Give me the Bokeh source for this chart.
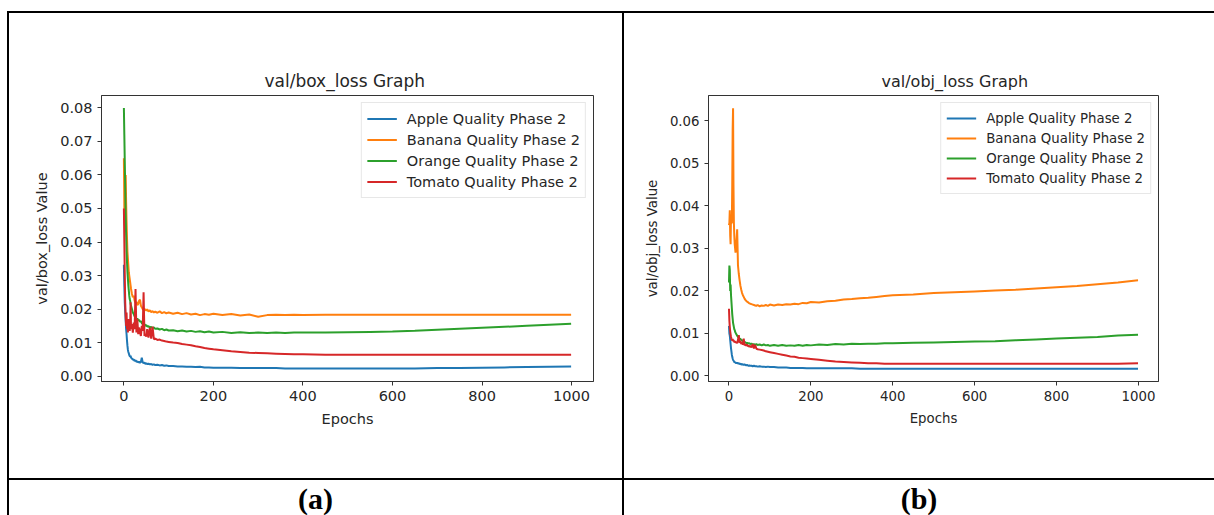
from bokeh.plotting import figure
from bokeh.models import Range1d, FixedTicker, PrintfTickFormatter, Div, Spacer
from bokeh.layouts import row, column
from bokeh.embed import file_html
from bokeh.resources import INLINE

# ---------------- data ----------------
epochs = [0, 1, 2, 3, 4, 5, 6, 7, 8, 9, 10, 11, 12, 13, 14, 15, 16,
          18, 20, 22, 24, 26, 28, 30, 32, 34, 36, 38, 40, 42, 44, 46, 48, 50, 52,
          55, 58, 61, 64, 67, 70, 75, 80, 85, 90, 95, 100,
          110, 120, 130, 140, 150, 160, 170, 180, 190, 200,
          220, 240, 260, 280, 300, 320, 340, 360, 380, 400,
          450, 500, 550, 600, 650, 700, 750, 800, 850, 900, 950, 999]

series_names = ["Apple Quality Phase 2", "Banana Quality Phase 2",
                "Orange Quality Phase 2", "Tomato Quality Phase 2"]
series_colors = ["#1f77b4", "#ff7f0e", "#2ca02c", "#d62728"]

# (a) val/box_loss
box_apple = [0.0332, 0.027, 0.022, 0.019, 0.0165, 0.014, 0.0125, 0.0105, 0.009, 0.0078, 0.0072, 0.0068, 0.0063, 0.0060, 0.0058, 0.0061, 0.0055,
             0.0052, 0.0049, 0.0050, 0.0045, 0.0047, 0.0043, 0.0044, 0.0041, 0.0043, 0.0040, 0.0042, 0.0055, 0.0041, 0.0039, 0.0040, 0.0037, 0.0038, 0.0036,
             0.0037, 0.0035, 0.0036, 0.0034, 0.0035, 0.0033, 0.0034, 0.0032, 0.0033, 0.0031, 0.0032, 0.0030,
             0.0030, 0.0029, 0.0029, 0.0028, 0.0028, 0.0027, 0.0028, 0.0026, 0.0026, 0.0025,
             0.0025, 0.0025, 0.0024, 0.0024, 0.0024, 0.0024, 0.0024, 0.0023, 0.0023, 0.0023,
             0.0023, 0.0023, 0.0023, 0.0023, 0.0023, 0.0024, 0.0024, 0.0025, 0.0026, 0.0027, 0.0028, 0.0029]
box_banana = [0.065, 0.050, 0.045, 0.055, 0.060, 0.052, 0.046, 0.041, 0.037, 0.035, 0.033, 0.031, 0.030, 0.029, 0.028, 0.027, 0.026,
              0.0245, 0.0235, 0.024, 0.0225, 0.0218, 0.0222, 0.0212, 0.0215, 0.0225, 0.0228, 0.021, 0.0205, 0.0200, 0.0198, 0.0201, 0.0197, 0.0196, 0.0199,
              0.0193, 0.0196, 0.0191, 0.0194, 0.0190, 0.0192, 0.0189, 0.0193, 0.0188, 0.0191, 0.0187, 0.0190,
              0.0186, 0.0189, 0.0185, 0.0188, 0.0184, 0.0186, 0.0182, 0.0185, 0.0183, 0.0186,
              0.0182, 0.0185, 0.0181, 0.0184, 0.0177, 0.0182, 0.0183, 0.0182, 0.0183, 0.0182,
              0.0183, 0.0183, 0.0183, 0.0183, 0.0183, 0.0183, 0.0183, 0.0183, 0.0183, 0.0183, 0.0183, 0.0183]
box_orange = [0.080, 0.072, 0.064, 0.056, 0.048, 0.042, 0.037, 0.034, 0.031, 0.029, 0.027, 0.0255, 0.024, 0.023, 0.0225, 0.0215, 0.021,
              0.020, 0.019, 0.0185, 0.0178, 0.0175, 0.0170, 0.0172, 0.0166, 0.0168, 0.0162, 0.0164, 0.0158, 0.0156, 0.0153, 0.0155, 0.0150, 0.0152, 0.0148,
              0.0149, 0.0145, 0.0147, 0.0143, 0.0145, 0.0141, 0.0142, 0.0139, 0.0141, 0.0137, 0.0139, 0.0136,
              0.0137, 0.0134, 0.0136, 0.0133, 0.0135, 0.0132, 0.0134, 0.0131, 0.0133, 0.0130,
              0.0132, 0.0129, 0.0131, 0.0129, 0.0130, 0.0129, 0.0130, 0.0129, 0.0130, 0.0130,
              0.0130, 0.0131, 0.0132, 0.0133, 0.0135, 0.0138, 0.0141, 0.0144, 0.0147, 0.0150, 0.0153, 0.0156]
box_tomato = [0.050, 0.040, 0.030, 0.022, 0.018, 0.015, 0.019, 0.014, 0.016, 0.013, 0.017, 0.014, 0.016, 0.0135, 0.015, 0.022, 0.014,
              0.0155, 0.013, 0.016, 0.014, 0.026, 0.013, 0.017, 0.0125, 0.0145, 0.013, 0.012, 0.015, 0.0135, 0.025, 0.012, 0.0125, 0.0118, 0.014,
              0.0115, 0.0145, 0.0112, 0.0148, 0.0110, 0.0112, 0.0108, 0.0109, 0.0106, 0.0105, 0.0103, 0.0102,
              0.0100, 0.0099, 0.0096, 0.0094, 0.0092, 0.0089, 0.0087, 0.0084, 0.0082, 0.0080,
              0.0077, 0.0074, 0.0072, 0.0070, 0.0069, 0.0068, 0.0067, 0.0066, 0.0065, 0.0065,
              0.0064, 0.0064, 0.0064, 0.0064, 0.0064, 0.0064, 0.0064, 0.0064, 0.0064, 0.0064, 0.0064, 0.0064]

# (b) val/obj_loss
obj_apple = [0.0118, 0.0100, 0.0095, 0.0085, 0.0075, 0.0065, 0.0058, 0.0050, 0.0045, 0.0041, 0.0038, 0.0036, 0.0035, 0.0033, 0.0032, 0.0033, 0.0031,
             0.0030, 0.0031, 0.0029, 0.0030, 0.0028, 0.0029, 0.0027, 0.0028, 0.0027, 0.0026, 0.0027, 0.0026, 0.0025, 0.0026, 0.0025, 0.0024, 0.0025, 0.0024,
             0.0024, 0.0023, 0.0024, 0.0023, 0.0023, 0.0022, 0.0023, 0.0022, 0.0022, 0.0021, 0.0022, 0.0021,
             0.0021, 0.0020, 0.0020, 0.0020, 0.0019, 0.0019, 0.0019, 0.0019, 0.0018, 0.0018,
             0.0018, 0.0018, 0.0018, 0.0018, 0.0018, 0.0017, 0.0017, 0.0017, 0.0017, 0.0017,
             0.0017, 0.0017, 0.0017, 0.0017, 0.0017, 0.0017, 0.0017, 0.0017, 0.0017, 0.0017, 0.0017, 0.0017]
obj_banana = [0.0355, 0.036, 0.039, 0.033, 0.031, 0.038, 0.036, 0.036, 0.045, 0.058, 0.063, 0.045, 0.036, 0.033, 0.031, 0.030, 0.029,
              0.031, 0.0345, 0.026, 0.024, 0.0225, 0.0212, 0.0203, 0.0195, 0.0190, 0.0186, 0.0182, 0.0179, 0.0177, 0.0175, 0.0174, 0.0172, 0.0171, 0.0170,
              0.0169, 0.0168, 0.0167, 0.0166, 0.0165, 0.0167, 0.0164, 0.0166, 0.0165, 0.0167, 0.0165, 0.0168,
              0.0166, 0.0168, 0.0167, 0.0169, 0.0168, 0.0170, 0.0169, 0.0172, 0.0171, 0.0174,
              0.0173, 0.0176, 0.0177, 0.0180, 0.0181, 0.0183, 0.0184, 0.0186, 0.0188, 0.0190,
              0.0192, 0.0195, 0.0197, 0.0199, 0.0201, 0.0203, 0.0206, 0.0209, 0.0212, 0.0216, 0.0220, 0.0225]
obj_orange = [0.022, 0.026, 0.025, 0.020, 0.0215, 0.019, 0.0175, 0.016, 0.0145, 0.0135, 0.0125, 0.012, 0.0115, 0.011, 0.0108, 0.0104, 0.0102,
              0.0098, 0.0095, 0.0092, 0.0090, 0.0088, 0.0087, 0.0085, 0.0084, 0.0082, 0.0081, 0.0080, 0.0079, 0.0078, 0.0077, 0.0078, 0.0076, 0.0077, 0.0075,
              0.0076, 0.0074, 0.0075, 0.0073, 0.0075, 0.0073, 0.0074, 0.0072, 0.0074, 0.0072, 0.0073, 0.0071,
              0.0073, 0.0071, 0.0073, 0.0071, 0.0072, 0.0071, 0.0073, 0.0071, 0.0073, 0.0072,
              0.0074, 0.0073, 0.0075, 0.0074, 0.0076, 0.0075, 0.0076, 0.0076, 0.0077, 0.0077,
              0.0078, 0.0079, 0.0080, 0.0081, 0.0082, 0.0084, 0.0086, 0.0088, 0.0090, 0.0092, 0.0095, 0.0097]
obj_tomato = [0.0158, 0.0130, 0.0115, 0.0105, 0.0098, 0.0092, 0.0088, 0.0085, 0.0084, 0.0087, 0.0082, 0.0085, 0.0080, 0.0083, 0.0079, 0.0082, 0.0078,
              0.0080, 0.0077, 0.0085, 0.0096, 0.0078, 0.0083, 0.0075, 0.0079, 0.0074, 0.0088, 0.0072, 0.0075, 0.0071, 0.0074, 0.0070, 0.0072, 0.0068, 0.0071,
              0.0067, 0.0075, 0.0065, 0.0073, 0.0064, 0.0063, 0.0062, 0.0061, 0.0060, 0.0058, 0.0057, 0.0056,
              0.0054, 0.0052, 0.0050, 0.0048, 0.0046, 0.0045, 0.0043, 0.0042, 0.0041, 0.0040,
              0.0038, 0.0036, 0.0034, 0.0033, 0.0032, 0.0031, 0.0030, 0.0030, 0.0029, 0.0029,
              0.0029, 0.0029, 0.0029, 0.0029, 0.0029, 0.0029, 0.0029, 0.0029, 0.0029, 0.0029, 0.0029, 0.0030]

x_ticks = [0, 200, 400, 600, 800, 1000]
box_y_ticks = [0.0, 0.01, 0.02, 0.03, 0.04, 0.05, 0.06, 0.07, 0.08]
obj_y_ticks = [0.0, 0.01, 0.02, 0.03, 0.04, 0.05, 0.06]

FONT = "DejaVu Sans"
INK = "#262626"


def make_chart(title, ylabel, series, y_ticks, ylim, width, height, borders, fs, tfs, title_off):
    p = figure(width=width, height=height, output_backend="svg", toolbar_location=None,
               x_range=Range1d(-50, 1049), y_range=Range1d(*ylim),
               min_border_left=borders[0], min_border_right=borders[1],
               min_border_top=borders[2], min_border_bottom=borders[3])
    p.margin = 0
    for vals, name, col in zip(series, series_names, series_colors):
        p.line(epochs, vals, line_color=col, line_width=2, legend_label=name)
    p.grid.visible = False
    p.outline_line_color = "#333333"
    p.outline_line_width = 1
    p.background_fill_color = "white"
    p.border_fill_color = "white"

    p.title.text = title
    p.title.align = "left"
    p.title.offset = title_off
    p.title.text_font = FONT
    p.title.text_font_size = tfs
    p.title.text_font_style = "normal"
    p.title.text_color = INK

    p.xaxis.ticker = FixedTicker(ticks=x_ticks)
    p.yaxis.ticker = FixedTicker(ticks=y_ticks)
    p.yaxis.formatter = PrintfTickFormatter(format="%.2f")
    for ax in (p.xaxis[0], p.yaxis[0]):
        ax.axis_line_color = "#333333"
        ax.major_tick_line_color = "#333333"
        ax.major_tick_out = 4
        ax.major_tick_in = 0
        ax.minor_tick_line_color = None
        ax.major_label_text_font = FONT
        ax.major_label_text_font_size = fs
        ax.major_label_text_color = INK
        ax.axis_label_text_font = FONT
        ax.axis_label_text_font_size = fs
        ax.axis_label_text_font_style = "normal"
        ax.axis_label_text_color = INK
        ax.major_label_standoff = 5
        ax.axis_label_standoff = 7
    p.xaxis.axis_label = "Epochs"
    p.yaxis.axis_label = ylabel

    lg = p.legend[0]
    lg.location = "top_right"
    lg.margin = 7
    lg.padding = 5
    lg.spacing = 0
    lg.label_text_font = FONT
    lg.label_text_font_size = fs
    lg.label_text_color = INK
    lg.label_standoff = 10
    lg.glyph_width = 30
    lg.border_line_color = "#d0d0d0"
    lg.border_line_width = 1
    lg.background_fill_alpha = 0.8
    return p


p1 = make_chart("val/box_loss Graph", "val/box_loss Value",
                [box_apple, box_banana, box_orange, box_tomato],
                box_y_ticks, (-0.0016, 0.0837), 613, 465, (92, 29, 49, 97),
                "14.5px", "17px", 163)
p1.legend[0].glyph_height = 21
p1.legend[0].label_height = 21

p2 = make_chart("val/obj_loss Graph", "val/obj_loss Value",
                [obj_apple, obj_banana, obj_orange, obj_tomato],
                obj_y_ticks, (-0.0013, 0.066), 590, 465, (84, 56, 82, 91),
                "13.3px", "16px", 173)
p2.legend[0].glyph_height = 20
p2.legend[0].label_height = 20


def line_div(w, h):
    return Div(text="", width=w, height=h, margin=0,
               styles={"background-color": "black"})


def sp(w, h):
    return Spacer(width=w, height=h, margin=0)


def cap_div(txt, w, h):
    return Div(text='<div style="width:%dpx;text-align:center;font-family:\'Liberation Serif\';'
                    'font-weight:bold;font-size:30px;line-height:38px;color:black;">%s</div>' % (w, txt),
               width=w, height=h, margin=0,
               styles={"text-align": "center", "width": "%dpx" % w})


layout = column(
    sp(1214, 11),
    row(sp(7, 2), line_div(1207, 2), spacing=0),
    row(sp(7, 465), line_div(2, 465), p1, line_div(2, 465), p2, spacing=0),
    row(sp(7, 2), line_div(1207, 2), spacing=0),
    row(sp(7, 35), line_div(2, 35), cap_div("(a)", 613, 35), line_div(2, 35),
        cap_div("(b)", 590, 35), spacing=0),
    spacing=0,
)

open("out.html", "w").write(file_html(layout, INLINE))
